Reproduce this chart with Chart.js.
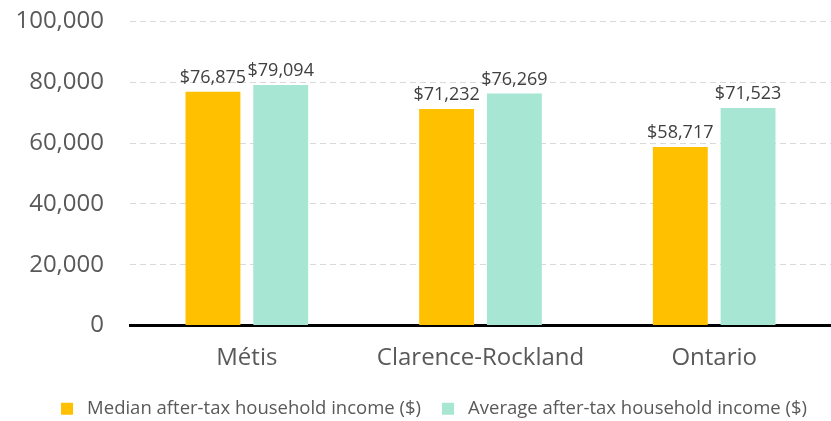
<!DOCTYPE html>
<html>
<head>
<meta charset="utf-8">
<script src="https://cdn.jsdelivr.net/npm/chart.js@4"></script>
<style>
  html, body { margin: 0; padding: 0; background: #fff; }
  #wrap { width: 831px; height: 421px; overflow: hidden; position: relative; }
  #inner { position: absolute; left: 0; top: -19px; width: 831px; height: 440px; }
</style>
</head>
<body>
<div id="wrap"><div id="inner"><canvas id="chart"></canvas></div></div>
<script>
// data
const categories = ['Métis', 'Clarence-Rockland', 'Ontario'];
const medianIncome = [76875, 71232, 58717];
const averageIncome = [79094, 76269, 71523];
const seriesNames = ['Median after-tax household income ($)', 'Average after-tax household income ($)'];

const FONT = "'Open Sans', sans-serif";
const TEXT = '#595959';

// draws the $ values over each bar
const valueLabels = {
  id: 'valueLabels',
  afterLayout(chart) {
    // legend sits a bit right of centre in the original
    if (chart.legend) chart.legend.left += 37;
  },
  afterDatasetsDraw(chart) {
    const ctx = chart.ctx;
    ctx.save();
    ctx.font = '18px ' + FONT;
    ctx.fillStyle = '#404040';
    ctx.textAlign = 'center';
    ctx.textBaseline = 'bottom';
    chart.data.datasets.forEach((ds, i) => {
      chart.getDatasetMeta(i).data.forEach((bar, j) => {
        ctx.fillText('$' + ds.data[j].toLocaleString('en-US'), bar.x, bar.y - 5);
      });
    });
    ctx.restore();
  }
};

new Chart(document.getElementById('chart'), {
  type: 'bar',
  data: {
    labels: categories,
    datasets: [
      { label: seriesNames[0], data: medianIncome, backgroundColor: '#FFC000' },
      { label: seriesNames[1], data: averageIncome, backgroundColor: '#A8E6D4' }
    ]
  },
  options: {
    responsive: true,
    maintainAspectRatio: false,
    animation: false,
    categoryPercentage: 0.58,
    barPercentage: 0.81,
    layout: { padding: { top: -7, right: 0, bottom: -7, left: 0 } },
    plugins: {
      legend: {
        position: 'bottom',
        labels: {
          color: TEXT,
          font: { family: FONT, size: 18.5 },
          boxWidth: 12,
          boxHeight: 12,
          padding: 21,
          generateLabels(chart) {
            const items = Chart.defaults.plugins.legend.labels.generateLabels(chart);
            items.forEach(it => { it.text = ' ' + it.text; });
            return items;
          }
        }
      },
      tooltip: { enabled: false }
    },
    scales: {
      x: {
        grid: { display: false },
        border: { color: '#000', width: 3 },
        ticks: { color: TEXT, font: { family: FONT, size: 24 }, padding: 10 },
        afterFit(s) { s.height = 53; }
      },
      y: {
        min: 0,
        max: 100000,
        grid: { color: '#d9d9d9', drawTicks: false },
        border: { display: false, dash: [6, 4] },
        ticks: {
          stepSize: 20000,
          color: TEXT,
          font: { family: FONT, size: 24 },
          padding: 26,
          callback: v => v.toLocaleString('en-US')
        },
        afterFit(s) { s.width = 130; }
      }
    }
  },
  plugins: [valueLabels]
});
</script>
</body>
</html>
